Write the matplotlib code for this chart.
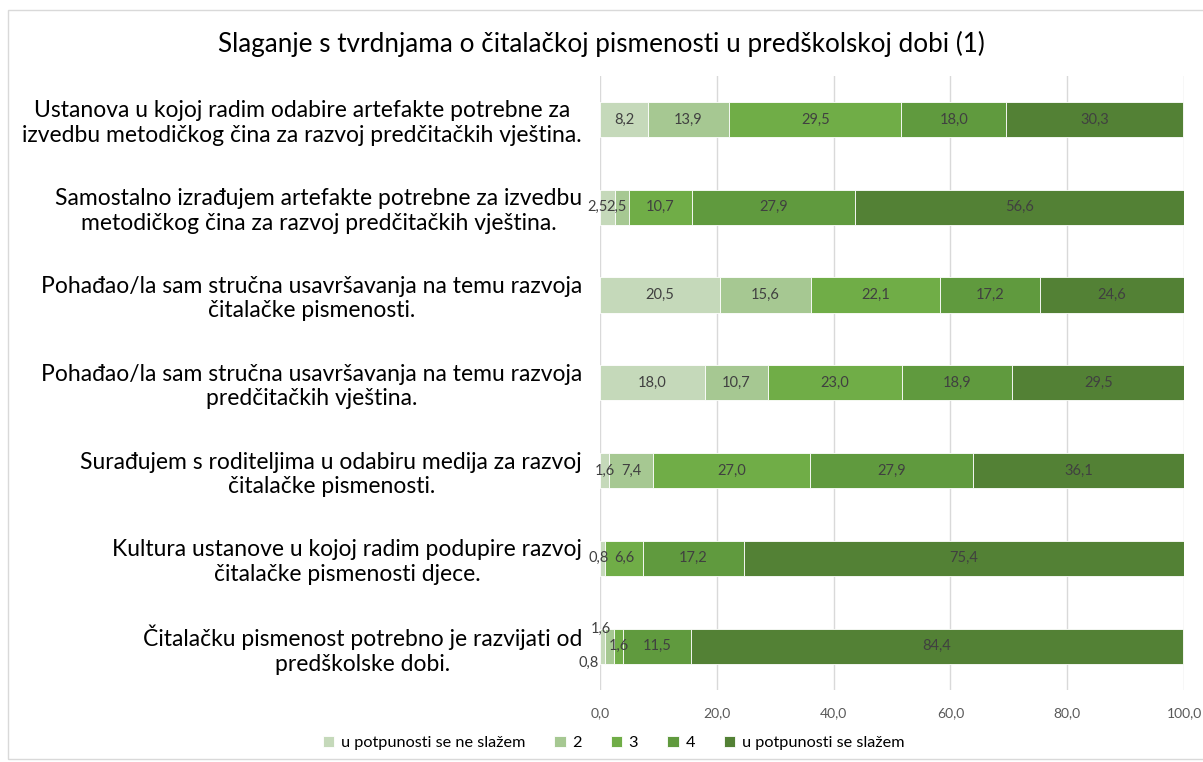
import matplotlib.pyplot as plt
from matplotlib.patches import Rectangle
import numpy as np

plt.rcParams['font.family'] = ['Lato', 'DejaVu Sans']

categories = [
    "Ustanova u kojoj radim odabire artefakte potrebne za\nizvedbu metodičkog čina za razvoj predčitačkih vještina.",
    "Samostalno izrađujem artefakte potrebne za izvedbu\nmetodičkog čina za razvoj predčitačkih vještina.",
    "Pohađao/la sam stručna usavršavanja na temu razvoja\nčitalačke pismenosti.",
    "Pohađao/la sam stručna usavršavanja na temu razvoja\npredčitačkih vještina.",
    "Surađujem s roditeljima u odabiru medija za razvoj\nčitalačke pismenosti.",
    "Kultura ustanove u kojoj radim podupire razvoj\nčitalačke pismenosti djece.",
    "Čitalačku pismenost potrebno je razvijati od\npredškolske dobi.",
]
series_names = ["u potpunosti se ne slažem", "2", "3", "4", "u potpunosti se slažem"]
s1 = [8.2, 2.5, 20.5, 18.0, 1.6, 0.8, 0.8]
s2 = [13.9, 2.5, 15.6, 10.7, 7.4, 0.0, 1.6]
s3 = [29.5, 10.7, 22.1, 23.0, 27.0, 6.6, 1.6]
s4 = [18.0, 27.9, 17.2, 18.9, 27.9, 17.2, 11.5]
s5 = [30.3, 56.6, 24.6, 29.5, 36.1, 75.4, 84.4]
xticks = [0, 20, 40, 60, 80, 100]

colors = ["#C5D9BA", "#A6C892", "#70AD47", "#609A3E", "#538135"]

fig = plt.figure(figsize=(12.03, 7.62), dpi=100)
fig.patches.append(Rectangle((8 / 1203, 3 / 762), 1.1, 749 / 762, transform=fig.transFigure,
                             fill=False, edgecolor="#D9D9D9", linewidth=1))
ax = fig.add_axes([0.4988, 0.0945, 0.4854, 0.8063])

y = np.arange(len(categories))
left = np.zeros(len(categories))
for name, vals, c in zip(series_names, [s1, s2, s3, s4, s5], colors):
    vals = np.array(vals)
    bars = ax.barh(y, vals, left=left, height=0.40, color=c, label=name,
                   edgecolor="white", linewidth=0.6)
    for i, (b, v) in enumerate(zip(bars, vals)):
        if v == 0:
            continue
        txt = f"{v:.1f}".replace(".", ",")
        cx = left[i] + v / 2
        cy = y[i]
        ha = "center"
        # small slices: Excel nudges the labels apart
        if i == 1 and name == series_names[0]:
            cx = -0.5
        elif i == 1 and name == series_names[1]:
            cx = 2.8
        elif i == 5 and name == series_names[0]:
            cx = -0.3
        elif i == 6 and name == series_names[0]:
            cx, cy, ha = -0.2, y[i] + 0.19, "right"
        elif i == 6 and name == series_names[1]:
            cx, cy = 0.2, y[i] - 0.2
        ax.text(cx, cy, txt, ha=ha, va="center", fontsize=10.5, color="#404040")
    left += vals

ax.set_xlim(0, 100)
ax.set_ylim(len(categories) - 0.5, -0.5)
ax.set_yticks(y)
ax.set_yticklabels(categories, fontsize=16.5, color="#000000", ha="right",
                   multialignment="center", linespacing=1.2)
ax.tick_params(axis="y", length=0, pad=13)
ax.set_xticks(xticks)
ax.set_xticklabels([f"{t:.1f}".replace(".", ",") for t in xticks], fontsize=10, color="#595959")
ax.tick_params(axis="x", length=0, pad=12)
ax.grid(axis="x", color="#D9D9D9", linewidth=1)
ax.set_axisbelow(True)
for s in ax.spines.values():
    s.set_visible(False)

fig.text(0.5, 0.942, "Slaganje s tvrdnjama o čitalačkoj pismenosti u predškolskoj dobi (1)",
         ha="center", va="center", fontsize=18.8, color="#000000")

fig.legend(loc="center", bbox_to_anchor=(0.51, 0.025), ncol=5, frameon=False,
           fontsize=11.7, handlelength=0.7, handleheight=0.7, columnspacing=1.8,
           handletextpad=0.4, labelcolor="#000000")

fig.savefig("out.png", dpi=100)
